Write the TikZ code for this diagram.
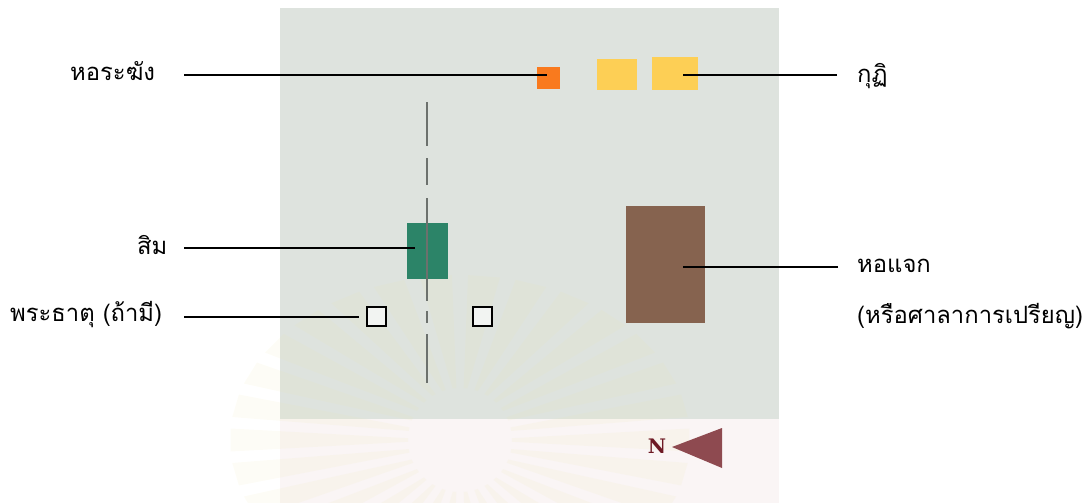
\documentclass[tikz,border=0pt]{standalone}
\usepackage{fontspec}
\newfontfamily\thaifont[Script=Thai]{Loma}
\newfontfamily\northfont{DejaVu Serif}
\definecolor{siteGrey}{HTML}{DEE3DE}
\definecolor{sitePink}{HTML}{FAF5F5}
\definecolor{rayYellow}{HTML}{EFE6A6}
\definecolor{bellOrange}{HTML}{F97A1E}
\definecolor{kutiYellow}{HTML}{FDCF55}
\definecolor{simGreen}{HTML}{2C8468}
\definecolor{hallBrown}{HTML}{86634F}
\definecolor{axisGrey}{HTML}{6C716D}
\definecolor{northRed}{HTML}{8E4A50}
\definecolor{northText}{HTML}{6E1A24}
\begin{document}
\begin{tikzpicture}[x=1pt,y=-1pt,
				building/.style={inner sep=0pt,outer sep=0pt},
				stupabox/.style={draw=black,line width=2pt,fill=white!60!siteGrey,inner sep=0pt,outer sep=0pt,minimum size=19pt},
				label/.style={font=\thaifont\fontsize{23.8}{26}\selectfont,inner sep=0pt,text=black},
				leader/.style={draw=black,line width=1.5pt}]
\useasboundingbox (0,0) rectangle (1092,503);
\clip (0,0) rectangle (1092,503);
\fill[siteGrey] (280,8) rectangle (779,419);
\fill[sitePink] (280,419) rectangle (779,503);
\begin{scope}[shift={(460,440)}]
\foreach \a in {0,12,...,348}
	\fill[rayYellow,opacity=.1] (\a-2:52pt and 52pt) -- (\a-4:230pt and 165pt) -- (\a+4:230pt and 165pt) -- (\a+2:52pt and 52pt) -- cycle;
\end{scope}
\node[building,fill=bellOrange,minimum width=23pt,minimum height=22pt] (bell) at (548,78) {};
\node[building,fill=kutiYellow,minimum width=40pt,minimum height=31pt] (kutiA) at (617,74.5) {};
\node[building,fill=kutiYellow,minimum width=46pt,minimum height=33pt] (kutiB) at (675,73.5) {};
\node[building,fill=simGreen,minimum width=41pt,minimum height=56pt] (sim) at (427.5,251) {};
\node[building,fill=hallBrown,minimum width=79pt,minimum height=117pt] (hall) at (665.5,264.5) {};
\node[stupabox] (stupaA) at (376,316) {};
\node[stupabox] (stupaB) at (482,316) {};
\coordinate (axisTop) at (427,102);
\coordinate (axisBottom) at (427,383);
\draw[axisGrey,line width=2.6pt,dash pattern=on 44pt off 12pt on 27pt off 13pt on 103pt off 10pt on 12pt off 11pt on 49pt] (axisTop) -- (axisBottom);
\node[label,anchor=west] (bellText) at (70,71) {หอระฆัง};
\node[label,anchor=west] (simText) at (137,245) {สิม};
\node[label,anchor=west] (stupaText) at (10,315) {พระธาตุ (ถ้ามี)};
\node[label,anchor=west] (kutiText) at (857,76) {กุฏิ};
\node[label,anchor=west] (hallText) at (857,266) {หอแจก};
\node[label,anchor=west] (hallTextB) at (857,316) {(หรือศาลาการเปรียญ)};
\coordinate (bellEnd) at (184,75);
\coordinate (simEnd) at (184,248);
\coordinate (stupaEnd) at (184,317);
\coordinate (kutiEnd) at (837,75);
\coordinate (hallEnd) at (838,267);
\draw[leader] (bellEnd) -- ([shift={(-1pt,3pt)}]bell.center);
\draw[leader] (simEnd) -- ([shift={(-12.5pt,3pt)}]sim.center);
\draw[leader] (stupaEnd) -- ([shift={(-8pt,-1pt)}]stupaA.west);
\draw[leader] (kutiEnd) -- ([shift={(8pt,-1.5pt)}]kutiB.center);
\draw[leader] (hallEnd) -- ([shift={(17.5pt,-2.5pt)}]hall.center);
\node[font=\northfont\bfseries\fontsize{20}{20}\selectfont,text=northText,inner sep=0pt] (north) at (657,446) {N};
\fill[northRed] (672,447) -- (722,428) -- (722,468) -- cycle;
\end{tikzpicture}
\end{document}
